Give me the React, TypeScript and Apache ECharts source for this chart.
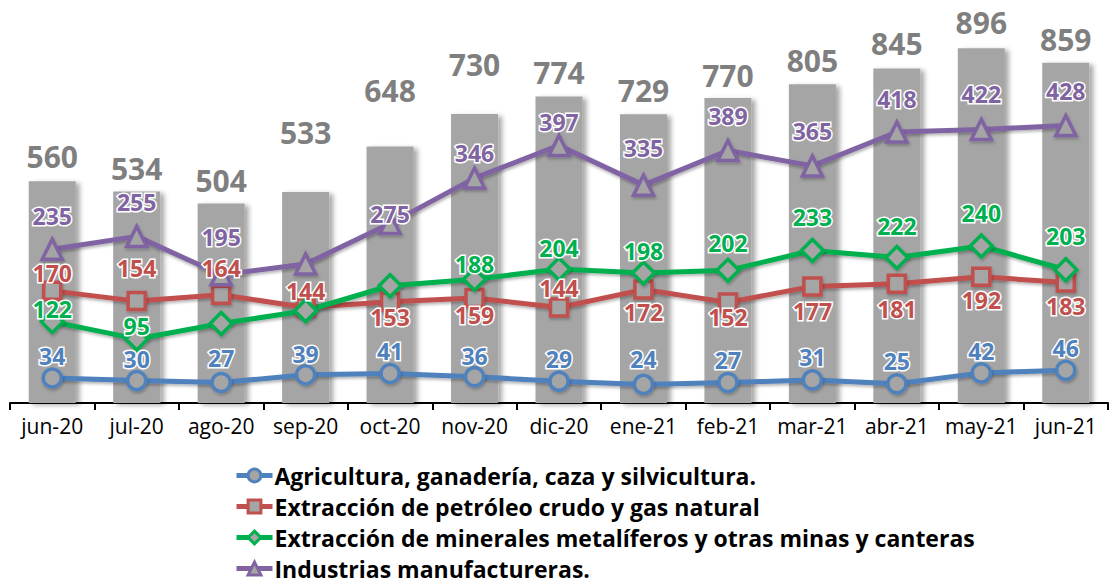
import React, { useEffect, useRef } from "react";
import * as echarts from "echarts";

const categories = ["jun-20", "jul-20", "ago-20", "sep-20", "oct-20", "nov-20", "dic-20", "ene-21", "feb-21", "mar-21", "abr-21", "may-21", "jun-21"];
const totalValues = [560, 534, 504, 533, 648, 730, 774, 729, 770, 805, 845, 896, 859];
const agriValues = [34, 30, 27, 39, 41, 36, 29, 24, 27, 31, 25, 42, 46];
const petroleoValues = [170, 154, 164, 144, 153, 159, 144, 172, 152, 177, 181, 192, 183];
const mineralesValues = [122, 95, 119, 139, 178, 188, 204, 198, 202, 233, 222, 240, 203];
const manufValues = [235, 255, 195, 212, 275, 346, 397, 335, 389, 365, 418, 422, 428];

const seriesNames = [
  "Agricultura, ganadería, caza y silvicultura.",
  "Extracción de petróleo crudo y gas natural",
  "Extracción de minerales metalíferos y otras minas y canteras",
  "Industrias manufactureras.",
];

// label placement (style only): vertical offset of each label centre from its marker
const agriLabelDy = [-22, -22, -24, -21, -23, -21, -22, -25, -22, -23, -23, -22, -22];
const petroleoLabelDy = [-18, -33, -27, -17, 15, 17, -20, 22, 15, 25, 25, 23, 23];
const mineralesLabelDy = [-13, -13, 0, 0, 0, -15, -21, -22, -27, -33, -32, -33, -34];
const manufLabelDy = [-33, -34, -38, 0, -10, -25, -23, -37, -35, -35, -33, -35, -35];
const mineralesHidden = [2, 3, 4];
const manufHidden = [3];
const barLabelLift = [-10, -8, -8, -44, -41, -34, -9, -9, -8, -9, -10, -11, -8];

const FONT = "Open Sans";
const GREY = "#a5a5a5";

function lineSeries(name: string, values: number[], color: string, symbol: string, size: number, dys: number[], hidden: number[]) {
  return {
    name,
    type: "line",
    yAxisIndex: 1,
    data: values.map((v, i) => ({
      value: v,
      label: { show: hidden.indexOf(i) < 0, offset: [0, dys[i]] },
    })),
    symbol,
    symbolSize: size,
    showAllSymbol: true,
    lineStyle: {
      color,
      width: 5,
      shadowColor: "rgba(0,0,0,0.3)",
      shadowBlur: 3,
      shadowOffsetX: 1,
      shadowOffsetY: 2,
    },
    itemStyle: {
      color: GREY,
      borderColor: color,
      borderWidth: 3.5,
      shadowColor: "rgba(0,0,0,0.25)",
      shadowBlur: 3,
      shadowOffsetX: 1,
      shadowOffsetY: 2,
    },
    label: {
      show: true,
      position: "inside",
      color,
      fontFamily: FONT,
      fontWeight: "bold",
      fontSize: 23,
      textBorderColor: "#ffffff",
      textBorderWidth: 3,
    },
    emphasis: { disabled: true },
    z: 3,
  };
}

export default function App() {
  const ref = useRef<HTMLDivElement>(null);
  useEffect(() => {
    if (!ref.current) return;
    const chart = echarts.init(ref.current, null, { renderer: "svg" });
    chart.setOption({
      animation: false,
      backgroundColor: "#ffffff",
      textStyle: { fontFamily: FONT },
      grid: { left: 10, right: 3, top: 7, bottom: 185 },
      legend: {
        orient: "vertical",
        left: 234,
        top: 464,
        padding: 0,
        height: 124,
        itemWidth: 36,
        itemHeight: 16,
        itemGap: 8,
        data: seriesNames,
        lineStyle: { width: 5 },
        itemStyle: { borderWidth: 3 },
        textStyle: { fontFamily: FONT, fontSize: 23, fontWeight: "bold", color: "#000", padding: [0, 0, 0, -3] },
      },
      xAxis: {
        type: "category",
        data: categories,
        boundaryGap: true,
        axisLine: { lineStyle: { color: "#000", width: 2 } },
        axisTick: { show: true, length: 7, lineStyle: { color: "#000", width: 2 } },
        axisLabel: { color: "#000", fontSize: 21, fontFamily: FONT, margin: 12, interval: 0 },
      },
      yAxis: [
        { type: "value", min: 0, max: 1000, show: false, splitLine: { show: false } },
        { type: "value", min: -5, max: 613, show: false, splitLine: { show: false } },
      ],
      series: [
        {
          name: "Total",
          type: "bar",
          data: totalValues.map((v, i) => ({ value: v, label: { offset: [0, barLabelLift[i]] } })),
          barWidth: 47,
          itemStyle: {
            color: GREY,
            shadowColor: "rgba(0,0,0,0.35)",
            shadowBlur: 5,
            shadowOffsetX: 4,
            shadowOffsetY: 2,
          },
          label: {
            show: true,
            position: "top",
            distance: 0,
            color: "#7f7f7f",
            fontFamily: FONT,
            fontWeight: "bold",
            fontSize: 30,
          },
          emphasis: { disabled: true },
          z: 1,
        },
        lineSeries(seriesNames[0], agriValues, "#4f81bd", "circle", 18, agriLabelDy, []),
        lineSeries(seriesNames[1], petroleoValues, "#c0504d", "rect", 17, petroleoLabelDy, []),
        lineSeries(seriesNames[2], mineralesValues, "#00b050", "diamond", 22, mineralesLabelDy, mineralesHidden),
        lineSeries(seriesNames[3], manufValues, "#8064a2", "triangle", 20, manufLabelDy, manufHidden),
      ],
    });
    return () => chart.dispose();
  }, []);
  return <div ref={ref} style={{ position: "fixed", left: 0, top: 0, width: 1111, height: 588 }} />;
}
